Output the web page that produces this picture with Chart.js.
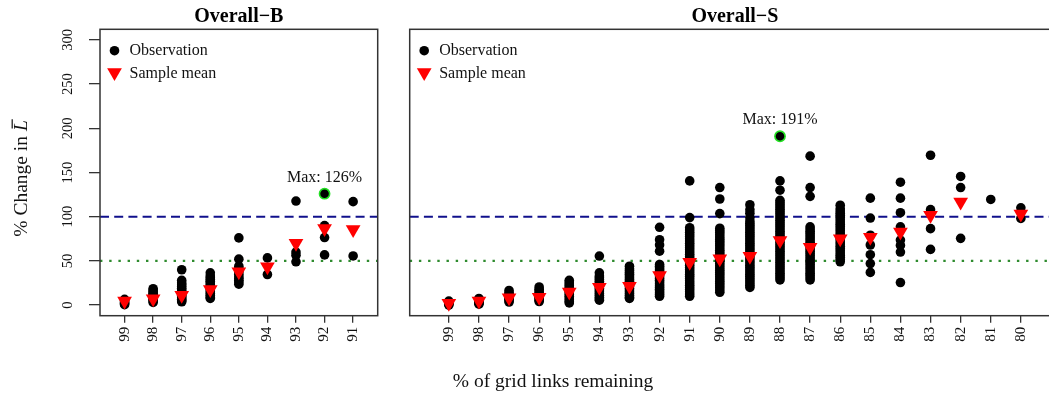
<!DOCTYPE html>
<html>
<head>
<meta charset="utf-8">
<script src="https://cdn.jsdelivr.net/npm/chart.js@4.4.1/dist/chart.umd.min.js"></script>
<style>
  html, body { margin: 0; padding: 0; background: #fff; overflow: hidden; width: 1049px; height: 396px; }
  #wrap { position: relative; width: 1049px; height: 396px; overflow: hidden; }
  #chartB { position: absolute; left: 0; top: 0; }
  #chartS { position: absolute; left: 390px; top: 0; }
</style>
</head>
<body>
<div id="wrap">
  <canvas id="chartB" width="395" height="396"></canvas>
  <canvas id="chartS" width="680" height="396"></canvas>
</div>
<script>
// ---- data ----------------------------------------------------------------
const yTicks = [0, 50, 100, 150, 200, 250, 300];
const refDashed = 100;
const refDotted = 50;

// Overall-B: % of grid links remaining
const catsB = ['99', '98', '97', '96', '95', '94', '93', '92', '91'];
const obsB = [
  [0.5, 1.5, 2.5, 3.5, 5, 6.5],
  [3, 4.5, 6, 7.5, 9, 10.5, 12, 13.5, 15, 17, 18.5],
  [3.7, 5, 6.5, 8, 9.5, 11, 13, 15, 17, 19, 21, 23, 25, 28, 40],
  [7.5, 9, 11, 13, 15, 17, 19, 21, 23, 25, 27, 29, 31, 33, 36.5],
  [23.7, 26, 28, 30, 32, 35, 38, 41, 44, 52, 76],
  [34.6, 53.4],
  [49, 56.4, 60, 117.7],
  [56.8, 76.4, 90],
  [55.6, 117]
];
const meanB = [4.5, 7.2, 11, 17.7, 37.7, 43.3, 70, 86.6, 85.4];
const maxCatB = '92';
const maxValB = 126;

// Overall-S
const catsS = ['99', '98', '97', '96', '95', '94', '93', '92', '91', '90',
               '89', '88', '87', '86', '85', '84', '83', '82', '81', '80'];
const obsS = [
  [0, 1, 2, 3, 4.5],
  [1, 2, 3, 4, 5, 6, 7.5],
  [3.5, 5, 6.5, 8, 9.5, 11, 12.5, 14, 16.5],
  [4, 5.5, 7, 8.5, 10, 12, 14, 16, 18, 20.5],
  [2.5, 4, 6, 8, 10, 12, 14, 16, 18, 20, 22, 24, 26, 28],
  [5.5, 7, 9, 11, 13, 15, 17, 19, 21, 23, 25, 27, 29, 31, 33, 36.5, 55.5],
  [7.5, 9, 11, 13, 15, 17, 19, 21, 23, 25, 27, 29, 31, 33, 35, 37, 39, 41, 44],
  [10, 12, 14, 16, 18, 20, 22, 24, 26, 28, 30, 32, 34, 36, 38, 40, 42, 44, 46, 61, 68, 74, 88],
  [10, 12.5, 15, 17.5, 20, 22.5, 25, 27.5, 30, 32.5, 35, 37.5, 40, 42.5, 45, 47.5, 50, 52.5,
   55, 57.5, 60, 62.5, 65, 67.5, 70, 72.5, 75, 77.5, 80, 82.5, 85, 87.5, 99, 140.5],
  [14.5, 17, 19.5, 22, 24.5, 27, 29.5, 32, 34.5, 37, 39.5, 42, 44.5, 47, 49.5, 52, 54.5, 57,
   59.5, 62, 64.5, 67, 69.5, 72, 74.5, 77, 79.5, 82, 84.5, 87, 103.5, 120, 133],
  [20, 22.5, 25, 27.5, 30, 32.5, 35, 37.5, 40, 42.5, 45, 47.5, 50, 52.5, 55, 57.5, 60, 62.5,
   65, 67.5, 70, 72.5, 75, 77.5, 80, 82.5, 85, 87.5, 90, 92.5, 95, 99, 104, 108, 113.5],
  [28.5, 31, 33.5, 36, 38.5, 41, 43.5, 46, 48.5, 51, 53.5, 56, 58.5, 61, 63.5, 66, 68.5, 71,
   73.5, 76, 78.5, 81, 83.5, 86, 88.5, 91, 93.5, 96, 98.5, 101, 103.5, 106, 108.5, 111, 113.5,
   116, 118.5, 130, 140.5],
  [28.5, 31, 33.5, 36, 38.5, 41, 43.5, 46, 48.5, 51, 53.5, 56, 58.5, 61, 63.5, 66, 68.5, 71,
   73.5, 76, 78.5, 81, 83.5, 86, 88.5, 123, 133, 168.5],
  [49, 51.5, 54, 56.5, 59, 61.5, 64, 66.5, 69, 71.5, 74, 76.5, 79, 81.5, 84, 86.5, 89, 91.5,
   94, 96.5, 99, 101.5, 104, 106.5, 109, 113],
  [37, 47, 57, 68, 79, 98.5, 121],
  [25.5, 60, 67.5, 73.5, 88.5, 104.5, 121, 139],
  [63, 86.5, 108, 169.5],
  [75.5, 133, 145.5],
  [119.5],
  [98, 110]
];
const meanS = [2, 4.5, 8.3, 9, 14.7, 20.3, 21.4, 33.5, 48.5, 52.4,
               55.3, 73, 65.5, 75, 76.7, 82.8, 101.6, 116.7, null, 103];
const maxCatS = '88';
const maxValS = 191;

// ---- styling ---------------------------------------------------------------
const FONT = '"Liberation Serif", "Times New Roman", Times, serif';
const RED = '#ff0000';
const GREEN = '#22e022';
const AXIS = '#333333';
const TEXT = '#111111';
const DOT_R = 4.8;

function drawSymbol(ctx, style, radius, rotation, x, y, fill) {
  ctx.save();
  ctx.fillStyle = fill;
  ctx.beginPath();
  if (style === 'circle') {
    ctx.arc(x, y, radius, 0, Math.PI * 2);
  } else {
    // equilateral triangle inscribed in a circle of the given radius
    let rad = rotation * Math.PI / 180;
    ctx.moveTo(x + Math.sin(rad) * radius, y - Math.cos(rad) * radius);
    rad += 2 * Math.PI / 3;
    ctx.lineTo(x + Math.sin(rad) * radius, y - Math.cos(rad) * radius);
    rad += 2 * Math.PI / 3;
    ctx.lineTo(x + Math.sin(rad) * radius, y - Math.cos(rad) * radius);
    ctx.closePath();
  }
  ctx.fill();
  ctx.restore();
}

function panelPlugin(cfg) {
  return {
    id: 'panelDecor',
    beforeDatasetsDraw(chart) {
      const { ctx, chartArea: a, scales } = chart;
      const y100 = scales.y.getPixelForValue(refDashed);
      const y50 = scales.y.getPixelForValue(refDotted);
      ctx.save();
      ctx.lineWidth = 2;
      ctx.strokeStyle = '#10108c';
      ctx.setLineDash([9, 5.2]);
      ctx.beginPath(); ctx.moveTo(a.left, y100); ctx.lineTo(a.right, y100); ctx.stroke();
      ctx.strokeStyle = '#2e8b2e';
      ctx.lineWidth = 2.2;
      ctx.setLineDash([2.4, 6.8]);
      ctx.beginPath(); ctx.moveTo(a.left, y50); ctx.lineTo(a.right, y50); ctx.stroke();
      ctx.restore();
    },
    afterDatasetsDraw(chart) {
      const { ctx, chartArea: a, scales } = chart;
      ctx.save();
      // frame
      ctx.strokeStyle = AXIS;
      ctx.lineWidth = 1.5;
      ctx.strokeRect(a.left, a.top, a.right - a.left, a.bottom - a.top);
      // legend
      const lx = a.left + 14.5;
      const tx = a.left + 29.5;
      const r1 = a.top + 21.4;
      const r2 = a.top + 44;
      drawSymbol(ctx, 'circle', DOT_R, 0, lx, r1, '#000');
      drawSymbol(ctx, 'triangle', 8.5, 180, lx, r2 - 0.8, RED);
      ctx.fillStyle = TEXT;
      ctx.font = '16px ' + FONT;
      ctx.textAlign = 'left';
      ctx.textBaseline = 'middle';
      ctx.fillText('Observation', tx, r1);
      ctx.fillText('Sample mean', tx, r2);
      // max annotation
      const mi = cfg.cats.indexOf(cfg.maxCat) + 1;
      const mx = scales.x.getPixelForValue(mi);
      const my = scales.y.getPixelForValue(cfg.maxValue);
      ctx.textAlign = 'center';
      ctx.fillText('Max: ' + cfg.maxValue + '%', mx, my - 16);
      ctx.restore();
    },
    afterDraw(chart) {
      if (cfg.extraText) cfg.extraText(chart);
    }
  };
}

function buildChart(canvasId, cfg) {
  const n = cfg.cats.length;
  const ext = 0.04 * n;
  const obsData = [];
  cfg.obs.forEach((vals, i) => vals.forEach(v => obsData.push({ x: i + 1, y: v })));
  const meanData = [];
  cfg.means.forEach((v, i) => { if (v !== null) meanData.push({ x: i + 1, y: v }); });
  const maxData = [{ x: cfg.cats.indexOf(cfg.maxCat) + 1, y: cfg.maxValue }];

  return new Chart(document.getElementById(canvasId), {
    type: 'scatter',
    data: {
      datasets: [
        { label: 'Sample mean', data: meanData, pointStyle: 'triangle', pointRotation: 180,
          pointRadius: 8.5, pointHoverRadius: 8.5, pointBackgroundColor: RED, pointBorderWidth: 0 },
        { label: 'Max', data: maxData, pointStyle: 'circle', pointRadius: 5.1, pointHoverRadius: 5.1,
          pointBackgroundColor: '#000', pointBorderColor: GREEN, pointBorderWidth: 1.6 },
        { label: 'Observation', data: obsData, pointStyle: 'circle', pointRadius: DOT_R,
          pointHoverRadius: DOT_R, pointBackgroundColor: '#000', pointBorderWidth: 0 }
      ]
    },
    options: {
      responsive: false,
      animation: false,
      devicePixelRatio: 1,
      events: [],
      layout: { padding: { left: cfg.padLeft, right: cfg.padRight, top: 0, bottom: 0 } },
      plugins: {
        legend: { display: false },
        tooltip: { enabled: false },
        title: {
          display: true, text: cfg.title, fullSize: false, color: '#000',
          font: { family: FONT, size: 20, weight: 'bold', lineHeight: 1.2 },
          padding: { top: 5.3, bottom: 0 }
        }
      },
      scales: {
        x: {
          type: 'linear',
          min: 0.5 - ext,
          max: n + 0.5 + ext,
          afterBuildTicks: s => { s.ticks = cfg.cats.map((c, i) => ({ value: i + 1 })); },
          afterFit: s => { s.height = 80.3; },
          ticks: {
            autoSkip: false, minRotation: 90, maxRotation: 90, padding: 4, color: TEXT,
            font: { family: FONT, size: 15 },
            callback: (v, i) => cfg.cats[i]
          },
          grid: { display: true, drawOnChartArea: false, drawTicks: true, tickLength: 7,
                  color: AXIS, lineWidth: 1.3 },
          border: { display: false }
        },
        y: {
          display: cfg.showY,
          min: -12,
          max: 312,
          afterBuildTicks: s => { s.ticks = yTicks.map(v => ({ value: v })); },
          afterFit: s => { s.width = cfg.showY ? 100 : 0; },
          ticks: {
            minRotation: 90, maxRotation: 90, crossAlign: 'center', padding: 9.8, color: TEXT,
            font: { family: FONT, size: 14.5 }
          },
          grid: { display: true, drawOnChartArea: false, drawTicks: true, tickLength: 11,
                  color: AXIS, lineWidth: 1.3 },
          border: { display: false }
        }
      }
    },
    plugins: [panelPlugin(cfg)]
  });
}

// y-axis title with an italic, overlined L
function drawYTitle(chart) {
  const ctx = chart.ctx;
  const main = '% Change in ';
  const size = 19.5;
  ctx.save();
  ctx.translate(22, 178.5);
  ctx.rotate(-Math.PI / 2);
  ctx.fillStyle = TEXT;
  ctx.strokeStyle = TEXT;
  ctx.textBaseline = 'middle';
  ctx.textAlign = 'left';
  ctx.font = size + 'px ' + FONT;
  const w1 = ctx.measureText(main).width;
  ctx.font = 'italic ' + size + 'px ' + FONT;
  const w2 = ctx.measureText('L').width;
  const x0 = -(w1 + w2) / 2;
  ctx.font = size + 'px ' + FONT;
  ctx.fillText(main, x0, 0);
  ctx.font = 'italic ' + size + 'px ' + FONT;
  ctx.fillText('L', x0 + w1, 0);
  ctx.lineWidth = 1.2;
  ctx.beginPath();
  ctx.moveTo(x0 + w1 + 2.5, -9.8);
  ctx.lineTo(x0 + w1 + w2 + 1, -9.8);
  ctx.stroke();
  ctx.restore();
}

// shared x-axis title, placed on the wider panel's canvas
function drawXTitle(chart) {
  const ctx = chart.ctx;
  ctx.save();
  ctx.fillStyle = TEXT;
  ctx.font = '19.5px ' + FONT;
  ctx.textAlign = 'center';
  ctx.textBaseline = 'middle';
  ctx.fillText('% of grid links remaining', 553 - 390, 382);
  ctx.restore();
}

buildChart('chartB', {
  title: 'Overall\u2212B', cats: catsB, obs: obsB, means: meanB,
  maxCat: maxCatB, maxValue: maxValB, showY: true, padLeft: 0, padRight: 17.3,
  extraText: drawYTitle
});
buildChart('chartS', {
  title: 'Overall\u2212S', cats: catsS, obs: obsS, means: meanS,
  maxCat: maxCatS, maxValue: maxValS, showY: false, padLeft: 19.7, padRight: 10,
  extraText: drawXTitle
});
</script>
</body>
</html>
